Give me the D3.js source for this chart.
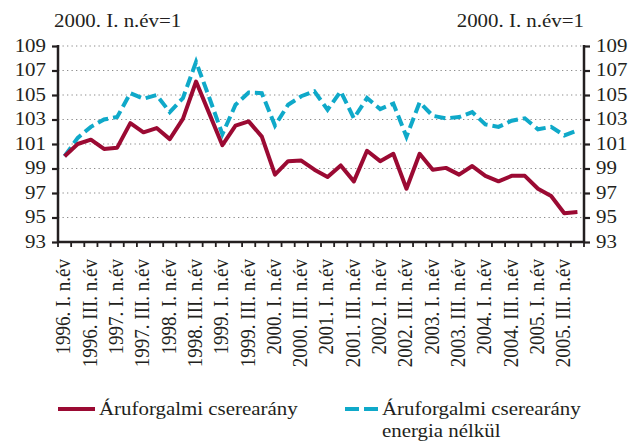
<!DOCTYPE html>
<html>
<head>
<meta charset="utf-8">
<script src="https://cdn.jsdelivr.net/npm/d3@7"></script>
<style>
  body { margin: 0; background: #fff; }
  text { font-family: "Liberation Serif", "Times New Roman", serif; fill: #231f20; }
</style>
</head>
<body>
<svg id="chart" width="632" height="443"></svg>
<script>
const years = [1996, 1997, 1998, 1999, 2000, 2001, 2002, 2003, 2004, 2005];
const quarters = ["I.", "II.", "III.", "IV."];
const categories = years.flatMap(y => quarters.map(q => y + ". " + q + " n.év"));

// Áruforgalmi cserearány
const terms = [100.0, 101.0, 101.35, 100.6, 100.7, 102.7, 101.95, 102.3, 101.4, 103.05,
  106.1, 103.5, 100.9, 102.5, 102.85, 101.6, 98.5, 99.6, 99.65, 98.9,
  98.3, 99.25, 97.95, 100.45, 99.6, 100.2, 97.35, 100.2, 98.9, 99.05,
  98.5, 99.2, 98.4, 97.95, 98.4, 98.4, 97.35, 96.75, 95.35, 95.45];
// Áruforgalmi cserearány energia nélkül
const termsNoEnergy = [100.0, 101.5, 102.4, 103.0, 103.2, 105.15, 104.7, 105.0, 103.6, 104.75,
  107.7, 104.8, 101.8, 104.2, 105.2, 105.15, 102.5, 104.2, 104.9, 105.3,
  103.8, 105.3, 103.1, 104.75, 103.85, 104.3, 101.6, 104.4, 103.3, 103.1,
  103.2, 103.6, 102.6, 102.4, 102.9, 103.1, 102.2, 102.4, 101.7, 102.1];
const yTicks = [93, 95, 97, 99, 101, 103, 105, 107, 109];
const unitLabel = "2000. I. n.év=1";
const seriesNames = ["Áruforgalmi cserearány", "Áruforgalmi cserearány", "energia nélkül"];

const red = "#9b0a33", blue = "#0fa9c9", ink = "#231f20";
const sx = 1.1; // the source text is a bit wide
const plotL = 58, plotR = 584, plotT = 46, plotB = 242;

const svg = d3.select("#chart");
const x = d3.scaleBand().domain(categories).range([plotL, plotR]);
const y = d3.scaleLinear().domain([93, 109]).range([plotB, plotT]);

// dotted grid
svg.append("g").selectAll("line")
  .data(yTicks.filter(t => t > 93))
  .join("line")
  .attr("x1", plotL).attr("x2", plotR)
  .attr("y1", d => y(d)).attr("y2", d => y(d))
  .attr("stroke", "#8c8c8c").attr("stroke-width", 1.2)
  .attr("stroke-dasharray", "1.3,3.2");

// y axes: ticks from d3, plain frame lines drawn by hand
const axisL = d3.axisLeft(y).tickValues(yTicks).tickSize(6).tickFormat("");
const axisR = d3.axisRight(y).tickValues(yTicks).tickSize(6).tickFormat("");
svg.append("g").attr("transform", `translate(${plotL},0)`).call(axisL);
svg.append("g").attr("transform", `translate(${plotR},0)`).call(axisR);
svg.selectAll(".domain").remove();
svg.selectAll(".tick line").attr("stroke", ink).attr("stroke-width", 2.2);

const frame = svg.append("g").attr("stroke", ink).attr("stroke-width", 2.5);
frame.append("line").attr("x1", plotL).attr("x2", plotL).attr("y1", y(109) - 1).attr("y2", plotB);
frame.append("line").attr("x1", plotR).attr("x2", plotR).attr("y1", y(109) - 1).attr("y2", plotB);
frame.append("line").attr("x1", plotL).attr("x2", plotR).attr("y1", plotB).attr("y2", plotB);

// x ticks at band edges
svg.append("g").selectAll("line")
  .data(categories.map(c => x(c)).concat([plotR]))
  .join("line")
  .attr("x1", d => d).attr("x2", d => d)
  .attr("y1", plotB).attr("y2", plotB + 5)
  .attr("stroke", ink).attr("stroke-width", 1.8);

// y labels
svg.append("g").selectAll("text").data(yTicks).join("text")
  .attr("transform", d => `translate(46,${y(d)}) scale(${sx},1)`)
  .attr("dy", "0.3em").attr("text-anchor", "end").attr("font-size", 19)
  .text(d => d);
svg.append("g").selectAll("text").data(yTicks).join("text")
  .attr("transform", d => `translate(596,${y(d)}) scale(${sx},1)`)
  .attr("dy", "0.3em").attr("font-size", 19)
  .text(d => d);

// x labels, every other quarter
svg.append("g").selectAll("text")
  .data(categories.filter((c, i) => i % 2 === 0))
  .join("text")
  .attr("transform", d => `translate(${x(d) + x.bandwidth() / 2 - 1},259) scale(${sx},1) rotate(-90)`)
  .attr("dy", "0.33em").attr("text-anchor", "end").attr("font-size", 19)
  .text(d => d);

// unit labels
svg.append("text").attr("transform", `translate(54,27) scale(${sx},1)`)
  .attr("font-size", 19).text(unitLabel);
svg.append("text").attr("transform", `translate(584,27) scale(${sx},1)`)
  .attr("font-size", 19).attr("text-anchor", "end").text(unitLabel);

// lines
const line = d3.line().x((d, i) => x(categories[i]) + x.bandwidth() / 2).y(d => y(d));
svg.append("path").datum(termsNoEnergy).attr("d", line)
  .attr("fill", "none").attr("stroke", blue).attr("stroke-width", 4)
  .attr("stroke-dasharray", "11,5");
svg.append("path").datum(terms).attr("d", line)
  .attr("fill", "none").attr("stroke", red).attr("stroke-width", 4)
  .attr("stroke-linejoin", "round");

// legend
const lg = svg.append("g");
lg.append("line").attr("x1", 58).attr("x2", 95).attr("y1", 409).attr("y2", 409)
  .attr("stroke", red).attr("stroke-width", 4);
lg.append("text").attr("transform", `translate(99,415) scale(${sx},1)`)
  .attr("font-size", 19).text(seriesNames[0]);
lg.append("line").attr("x1", 345).attr("x2", 378).attr("y1", 409).attr("y2", 409)
  .attr("stroke", blue).attr("stroke-width", 4).attr("stroke-dasharray", "14,5");
lg.append("text").attr("transform", `translate(382,415) scale(${sx},1)`)
  .attr("font-size", 19).text(seriesNames[1]);
lg.append("text").attr("transform", `translate(382,437) scale(${sx},1)`)
  .attr("font-size", 19).text(seriesNames[2]);
</script>
</body>
</html>
